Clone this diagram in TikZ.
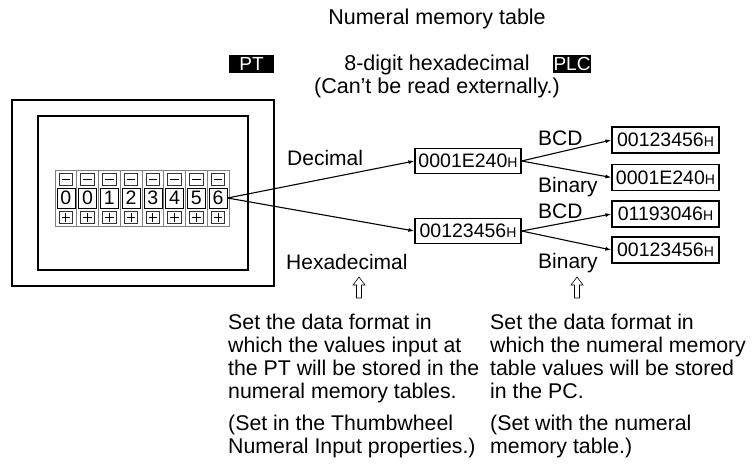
\documentclass[tikz,border=0pt]{standalone}
\usepackage{fontspec}
\setmainfont{Liberation Sans}
\usetikzlibrary{arrows.meta}
\begin{document}
\begin{tikzpicture}[x=1pt,y=-1pt,
  txt/.style={font=\fontsize{21}{23}\selectfont, inner sep=0pt},
  head/.style={font=\fontsize{21.5}{23}\selectfont, inner sep=0pt},
  para/.style={font=\fontsize{21.3}{23}\selectfont, inner sep=0pt, align=left, anchor=north west},
  valbox/.style={draw, line width=1.2pt, minimum width=106pt, minimum height=25pt, inner sep=0pt, font=\fontsize{19.5}{20}\selectfont},
  tag/.style={fill=black, text=white, inner sep=0pt, minimum height=18pt, font=\fontsize{19}{20}\selectfont},
  conn/.style={line width=1.1pt, -{Latex[length=6pt,width=4pt]}},
  digit/.style={draw, line width=0.8pt, minimum width=18pt, minimum height=20pt, inner sep=0pt, font=\fontsize{19.5}{20}\selectfont},
  hollow/.style={draw, line width=0.6pt, fill=white}
]
\useasboundingbox (0,0) rectangle (756,469);
\newcommand{\sH}{{\fontsize{14}{14}\selectfont H}}

% header
\node[head] (title) at (437,19) {Numeral memory table};
\node[head, align=center] (fmt) at (437,76.5) {8-digit hexadecimal\\(Can’t be read externally.)};
\node[tag, minimum width=45pt] (pt) at (251.5,64) {PT};
\node[tag, minimum width=38pt] (plc) at (572,64) {PLC};

% PT screen
\draw[line width=1.2pt] (12,100) rectangle (274,286);
\draw[line width=1.2pt] (38,116) rectangle (248,270);

% thumbwheel
\foreach \d [count=\i from 0] in {0,0,1,2,3,4,5,6} {
  \pgfmathsetmacro\xa{55+\i*21.75}
  \draw[gray, line width=0.7pt] (\xa,170) rectangle ++(21.75,56);
  \draw[line width=0.6pt, black!80] (\xa+4,173) rectangle (\xa+17.5,185);
  \draw[line width=0.6pt] (\xa+6.5,179) -- (\xa+15,179);
  \node[digit] (d\i) at (\xa+10.9,198) {\d};
  \draw[line width=0.6pt, black!80] (\xa+4,211) rectangle (\xa+17.5,223);
  \draw[line width=0.6pt] (\xa+6.5,217) -- (\xa+15,217);
  \draw[line width=0.6pt] (\xa+10.75,212.5) -- (\xa+10.75,221.5);
}

% value boxes
\node[valbox] (m1) at (468,161) {0001E240\sH};
\node[valbox] (m2) at (468,231) {00123456\sH};
\node[valbox, minimum width=107pt, minimum height=26pt] (r1) at (665.5,140) {00123456\sH};
\node[valbox, minimum width=107pt, minimum height=26pt] (r2) at (665.5,177.5) {0001E240\sH};
\node[valbox, minimum width=107pt, minimum height=26pt] (r3) at (665.5,214) {01193046\sH};
\node[valbox, minimum width=107pt, minimum height=26pt] (r4) at (665.5,250) {00123456\sH};

% connectors
\draw[conn] (d7.east) -- (m1.west);
\draw[conn] (d7.east) -- (m2.west);
\draw[conn] (m1.east) -- (r1.west);
\draw[conn] (m1.east) -- (r2.west);
\draw[conn] (m2.east) -- (r3.west);
\draw[conn] (m2.east) -- (r4.west);

% labels
\node[txt, anchor=west] (ldec) at (287,158) {Decimal};
\node[txt, anchor=west] (lhex) at (286,262) {Hexadecimal};
\node[txt, anchor=west] (lbcd1) at (538,138) {BCD};
\node[txt, anchor=west] (lbin1) at (538,187) {Binary};
\node[txt, anchor=west] (lbcd2) at (538,211) {BCD};
\node[txt, anchor=west] (lbin2) at (538,263) {Binary};

% hollow up arrows
\draw[hollow] (359,277) -- (365,285) -- (361.5,285) -- (361.5,298) -- (356.5,298) -- (356.5,285) -- (353,285) -- cycle;
\draw[hollow] (577,277) -- (583,285) -- (579.5,285) -- (579.5,298) -- (574.5,298) -- (574.5,285) -- (571,285) -- cycle;

% explanations
\node[para] (t1) at (228,314) {Set the data format in\\which the values input at\\the PT will be stored in the\\numeral memory tables.};
\node[para] (t2) at (228,415) {(Set in the Thumbwheel\\Numeral Input properties.)};
\node[para] (t3) at (490,314) {Set the data format in\\which the numeral memory\\table values will be stored\\in the PC.};
\node[para] (t4) at (490,415) {(Set with the numeral\\memory table.)};
\end{tikzpicture}
\end{document}
